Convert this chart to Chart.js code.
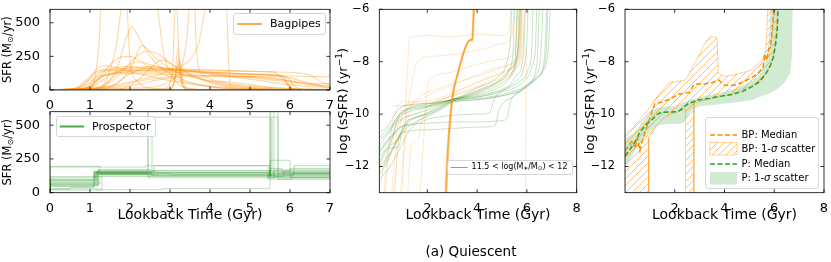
<!DOCTYPE html>
<html>
<head>
<meta charset="utf-8">
<script src="https://cdn.jsdelivr.net/npm/chart.js@4.4.1/dist/chart.umd.min.js"></script>
<style>
  body { margin: 0; background: #fff; width: 831px; height: 262px; position: relative; overflow: hidden; font-family: "DejaVu Sans"; }
  canvas { position: absolute; }
  #caption { position: absolute; left: 371px; top: 243px; width: 200px; text-align: center; font-size: 13.5px; line-height: 16px; color: #000; }
</style>
</head>
<body>
<canvas id="sfrBp" width="340" height="110" style="left:0;top:0"></canvas>
<canvas id="sfrP" width="340" height="130" style="left:0;top:100px"></canvas>
<canvas id="ssfrAll" width="252" height="230" style="left:330px;top:0"></canvas>
<canvas id="ssfrMed" width="251" height="230" style="left:580px;top:0"></canvas>
<div id="caption">(a) Quiescent</div>
<script>
// tick values
const timeTicksLeft = [0, 1, 2, 3, 4, 5, 6, 7];
const sfrTicks = [0, 250, 500];
const timeTicksRight = [2, 4, 6, 8];
const ssfrTicks = [-12, -10, -8, -6];

// top left: Bagpipes SFR histories [lookback Gyr, SFR]
const bagpipesSfr = [
  [[0,2],[0.6,8],[0.9,55],[1.1,125],[1.4,155],[2,162],[3,158],[4,150],[5,140],[5.6,133],[5.85,70],[6.05,12],[6.4,0],[7,0]],
  [[0,3],[0.7,14],[1.0,80],[1.3,138],[2,145],[3,140],[4,130],[5,120],[5.8,108],[6.0,25],[6.3,0],[7,0]],
  [[0,1],[0.8,10],[1.2,80],[1.6,128],[2.5,134],[3.5,126],[4.5,118],[5.5,108],[6.2,102],[7,98]],
  [[0,1],[1,18],[1.5,110],[2,168],[2.5,175],[3,160],[4,120],[5,80],[6,40],[7,14]],
  [[0,0],[1,5],[1.4,40],[1.7,180],[1.9,380],[2.05,470],[2.2,400],[2.5,250],[3,120],[3.5,60],[4,25],[5,5],[7,0]],
  [[0,0],[1.2,10],[1.6,80],[2,200],[2.4,290],[2.7,268],[3,200],[3.5,118],[4,60],[5,15],[6,2],[7,0]],
  [[0,0],[0.9,10],[1.3,120],[1.7,238],[2,250],[2.3,205],[2.8,120],[3.5,50],[4.5,10],[7,0]],
  [[0,0],[1,4],[1.12,90],[1.22,330],[1.3,700],[1.9,700],[2.0,220],[2.2,60],[2.6,10],[3,0],[7,0]],
  [[0,0],[1.1,5],[1.4,70],[1.65,320],[1.85,700],[2.6,720],[2.85,260],[3.15,60],[3.6,8],[4,0],[7,0]],
  [[0,0],[2.2,15],[3.2,110],[3.42,380],[3.52,720],[3.6,720],[3.66,300],[3.8,120],[4.5,60],[5.5,20],[7,0]],
  [[0,0],[1,10],[2,60],[3,150],[3.7,330],[3.95,650],[4.4,650],[4.48,120],[4.55,0],[7,0]],
  [[0,0],[2.8,5],[3.05,100],[3.15,700],[3.25,100],[3.45,0],[7,0]],
  [[0,0],[2.9,0],[3.1,50],[3.2,310],[3.3,40],[3.5,0],[7,0]],
  [[0,0],[3.0,5],[3.14,100],[3.22,230],[3.3,60],[3.45,5],[7,0]],
  [[0,0],[3.05,10],[3.18,160],[3.26,200],[3.34,50],[3.5,5],[7,0]],
  [[0,0],[1.5,20],[2.5,80],[3.5,110],[4.5,105],[5.5,90],[6.5,40],[7,20]],
  [[0,0],[2,30],[3,90],[4,100],[5,92],[6,70],[6.5,42],[7,30]],
  [[0,2],[0.8,20],[1.2,100],[1.8,122],[3,116],[4,106],[5,100],[5.85,95],[5.95,30],[6.2,0],[7,0]],
  [[0,0],[1.2,20],[1.8,150],[2.2,210],[2.6,180],[3.2,130],[4,70],[5,30],[6,10],[7,5]],
  [[0,0],[0.6,10],[1,100],[1.3,180],[1.6,172],[2.2,122],[3,70],[4,30],[5,10],[7,0]],
  [[0,0],[1.8,10],[2.3,100],[2.8,222],[3.1,180],[3.6,100],[4.2,40],[5,10],[7,0]],
  [[0,0],[0.9,15],[1.3,140],[1.6,150],[2.5,150],[3.5,148],[4.5,142],[5.5,135],[6.4,120],[6.8,60],[7,40]],
  [[0,0],[1.4,10],[2.0,120],[2.5,170],[3.2,150],[4.2,120],[5.2,85],[6,60],[7,45]],
  [[0,0],[1.0,20],[1.4,130],[1.8,175],[2.5,160],[3.5,140],[4.5,125],[5.5,110],[6.0,90],[6.6,40],[7,20]],
  [[0,0],[0.9,10],[1.3,100],[2.0,140],[3,150],[4,135],[5,118],[5.9,100],[6.1,30],[6.5,0],[7,0]],
  [[0,0],[1.5,30],[2,150],[2.3,330],[2.6,250],[3,160],[3.5,100],[4.5,40],[5.5,10],[7,0]],
  [[0,1],[7,1]],
  [[0,0],[7,0]]
];

// bottom left: Prospector step SFR histories [bin start Gyr, SFR]
const prospectorSfr = [
  [[0,8],[1.12,100],[2.45,155],[5.5,160],[6.0,140],[7,140]],
  [[0,5],[1.15,70],[2.5,145],[5.55,130],[6.05,150],[7,150]],
  [[0,3],[1.2,50],[2.6,140],[5.45,200],[5.9,130],[7,130]],
  [[0,12],[1.1,120],[2.45,160],[5.6,650],[5.75,120],[7,120]],
  [[0,2],[0.5,25],[1.1,40],[2.55,150],[5.5,560],[6.05,130],[7,130]],
  [[0,6],[1.25,195],[2.45,140],[5.6,110],[6.5,170],[7,170]],
  [[0,4],[1.2,30],[2.8,22],[5.5,30],[5.7,650],[6.03,100],[7,100]],
  [[0,7],[1.15,90],[2.7,135],[5.5,140],[6.0,240],[6.5,110],[7,110]],
  [[0,10],[1.2,60],[2.5,170],[5.5,150],[6.1,130],[6.6,200],[7,200]],
  [[0,3],[1.3,20],[2.45,130],[5.5,125],[5.8,180],[6.2,150],[7,150]],
  [[0,5],[1.12,110],[3.0,140],[5.5,135],[6.0,115],[7,115]],
  [[0,8],[1.18,75],[2.6,150],[5.45,145],[6.05,100],[6.5,140],[7,140]],
  [[0,2],[1.1,45],[2.5,120],[5.5,120],[6.0,160],[6.8,180],[7,180]],
  [[0,15],[1.05,190],[2.4,190],[5.5,200],[5.7,160],[7,160]],
  [[0,4],[1.2,55],[2.45,165],[5.52,640],[5.95,140],[7,140]],
  [[0,6],[1.15,85],[2.65,155],[5.5,150],[5.85,120],[6.3,160],[7,160]],
  [[0,3],[1.25,65],[2.55,140],[5.45,130],[6.05,110],[7,110]],
  [[0,9],[1.1,95],[2.5,150],[5.55,165],[5.7,560],[5.76,140],[7,140]]
];

// middle: sSFR histories [lookback Gyr, log sSFR]
const prospectorSsfr = [
  [[0.07,-11.2],[0.3,-10.9],[0.6,-10.5],[0.9,-10.1],[1.3,-9.9],[2,-9.75],[2.5,-9.6],[3,-9.45],[4,-9.25],[5,-8.9],[5.4,-8.5],[5.6,-7.9],[5.7,-7],[5.75,-5.8]],
  [[0.07,-11.8],[0.3,-11.4],[0.6,-10.9],[0.7,-10.5],[1,-10.2],[1.5,-10.0],[2,-9.85],[2.5,-9.65],[3,-9.45],[4,-9.3],[5,-9.05],[5.6,-8.7],[5.9,-8.1],[6.0,-7.2],[6.05,-5.8]],
  [[0.07,-12.3],[0.4,-11.8],[0.7,-11.2],[1,-10.6],[1.4,-10.2],[2,-9.95],[2.5,-9.7],[3,-9.5],[4,-9.35],[5,-9.15],[5.8,-8.8],[6.2,-8.2],[6.35,-7.3],[6.4,-5.8]],
  [[0.07,-11.5],[0.4,-11.0],[0.65,-10.7],[0.8,-10.2],[1.1,-9.9],[1.8,-9.75],[2.5,-9.55],[3,-9.45],[4,-9.2],[5,-8.8],[5.4,-8.4],[5.55,-7.6],[5.6,-5.8]],
  [[0.07,-12.0],[0.5,-11.5],[0.9,-10.8],[1.2,-10.3],[1.8,-10.05],[2.5,-9.75],[3,-9.5],[4,-9.4],[5,-9.25],[6,-8.9],[6.6,-8.4],[6.85,-7.6],[6.95,-5.8]],
  [[0.07,-11.4],[0.5,-11],[0.8,-10.6],[1.2,-10.4],[2,-10.35],[3,-10.3],[4,-10.3],[5,-10.25],[5.2,-10.15],[5.35,-9.5],[5.8,-9.1],[6.3,-8.6],[6.55,-7.8],[6.65,-5.8]],
  [[0.07,-10.9],[0.3,-10.7],[0.6,-10.4],[0.9,-10.0],[1.2,-9.8],[2,-9.7],[3,-9.45],[4,-9.15],[4.8,-8.8],[5.3,-8.3],[5.45,-7.5],[5.5,-5.8]],
  [[0.07,-12.1],[0.4,-11.7],[0.6,-11.3],[0.75,-11.0],[1.1,-10.6],[1.5,-10.3],[2,-10.1],[2.6,-9.8],[3,-9.55],[4,-9.45],[5,-9.3],[5.9,-9.0],[6.4,-8.6],[6.75,-7.9],[6.85,-5.8]],
  [[0.07,-11.6],[0.5,-11.2],[0.8,-11.0],[1.0,-10.7],[2,-10.6],[3,-10.55],[4,-10.5],[4.7,-10.45],[4.9,-9.8],[5.5,-9.3],[6.1,-8.8],[6.4,-8.1],[6.5,-5.8]],
  [[0.07,-11.0],[0.5,-10.6],[0.8,-10.1],[1.2,-9.8],[1.8,-9.65],[2.5,-9.55],[3,-9.45],[4,-9.1],[4.9,-8.7],[5.4,-8.2],[5.65,-7.4],[5.7,-5.8]],
  [[0.07,-11.9],[0.5,-11.3],[0.85,-11.25],[1.0,-10.5],[1.5,-10.15],[2.2,-9.95],[3,-9.5],[4,-9.35],[5,-9.1],[5.7,-8.75],[6.05,-8.3],[6.2,-7.4],[6.25,-5.8]],
  [[0.07,-12.5],[0.5,-12.0],[0.9,-11.3],[1.3,-10.6],[1.9,-10.1],[2.5,-9.8],[3,-9.55],[4,-9.45],[5,-9.3],[5.9,-9.05],[6.4,-8.6],[6.7,-7.9],[6.8,-5.8]],
  [[0.07,-11.3],[0.6,-10.8],[0.9,-10.5],[1.5,-10.4],[2,-10.2],[2.5,-10.1],[3,-10.05],[4,-10.0],[4.5,-9.95],[4.7,-9.4],[5.2,-9.0],[5.6,-8.5],[5.85,-7.8],[5.95,-5.8]],
  [[0.07,-10.7],[0.4,-10.5],[0.7,-10.0],[1.0,-9.7],[2,-9.6],[3,-9.45],[4,-9.0],[4.8,-8.6],[5.2,-8.0],[5.35,-7.0],[5.4,-5.8]]
];
const bagpipesSsfr = [
  [[0.55,-13.2],[0.7,-11.5],[0.85,-10.2],[1.0,-9.7],[2,-9.5],[3,-9.2],[4,-8.8],[5,-8.4],[5.5,-8.1],[5.7,-7.5],[5.8,-5.8]],
  [[0.9,-13.2],[1.1,-11],[1.3,-9.8],[1.6,-9.4],[2.5,-9.0],[3.5,-8.7],[4.5,-8.4],[5.3,-8.1],[5.6,-7.8],[5.75,-5.8]],
  [[0.6,-13.2],[0.75,-12],[0.9,-10.5],[1.1,-9.7],[1.3,-9.65],[2,-9.7],[3,-9.5],[4,-9.1],[5,-8.7],[5.6,-8.2],[5.8,-7.2],[5.85,-5.8]],
  [[1.0,-13.2],[1.1,-10.5],[1.2,-8.3],[1.3,-7.1],[2,-7.0],[3,-7.05],[4,-6.95],[5,-7.0],[5.25,-6.9],[5.32,-6.4],[5.36,-5.8]],
  [[1.7,-13.2],[1.85,-11],[2.0,-9.0],[2.2,-8.6],[3,-8.4],[4,-8.1],[5,-7.9],[5.5,-7.6],[5.65,-5.8]],
  [[0.3,-13.2],[0.5,-11],[0.8,-9.7],[1.2,-9.5],[1.8,-9.6],[2.5,-9.5],[3.5,-9.0],[4.5,-8.6],[5.3,-8.3],[5.6,-7.8],[5.7,-5.8]],
  [[0.25,-13.2],[0.4,-11.5],[0.6,-10.5],[0.9,-10.2],[1.5,-10.0],[2.2,-9.6],[3,-9.3],[4,-9.0],[5,-8.6],[5.6,-8.2],[5.85,-7.3],[5.9,-5.8]],
  [[1.2,-13.2],[1.35,-11.2],[1.6,-11.0],[1.8,-10.2],[2.1,-9.7],[3,-9.3],[4,-8.95],[5,-8.5],[5.5,-8.2],[5.75,-7.5],[5.8,-5.8]],
  [[0.08,-12.8],[0.3,-11.8],[0.6,-11.0],[0.9,-10.3],[1.2,-9.8],[2,-9.3],[3,-8.9],[4,-8.5],[5,-8.2],[5.5,-7.9],[5.65,-5.8]],
  [[5.94,-13.2],[5.96,-10],[5.98,-7.5]],
  [[0.7,-13.2],[0.8,-11.2],[1.0,-10.8],[1.3,-9.2],[1.6,-8.0],[2.2,-7.8],[3.2,-7.7],[4.3,-7.5],[5,-7.3],[5.4,-7.0],[5.5,-5.8]],
  [[0.6,-9.7],[1.0,-9.68],[1.6,-9.65],[1.8,-9.6],[2.6,-9.5],[3.2,-9.45],[4.2,-9.1],[5.2,-8.55],[5.6,-8.0],[5.75,-7.0],[5.78,-5.8]]
];
const bagpipesSsfrMain = [
  [[2.72,-13.2],[2.8,-11.5],[2.9,-10.2],[3.0,-9.3],[3.2,-8.5],[3.4,-7.8],[3.55,-7.4],[3.7,-7.2],[3.8,-7.1],[3.83,-6.5],[3.86,-5.8]],
  [[2.76,-13.2],[2.84,-11.4],[2.94,-10.1],[3.05,-9.2],[3.25,-8.4],[3.45,-7.7],[3.6,-7.3],[3.72,-7.15],[3.82,-7.2],[3.86,-6.4],[3.9,-5.8]]
];

// right: medians and 1-sigma regions
const bpMedian = [[0,-11.4],[0.15,-11.2],[0.3,-11.0],[0.4,-11.3],[0.5,-10.9],[0.6,-11.4],[0.7,-11.0],[0.8,-10.7],[0.95,-10.3],[1.08,-9.9],[1.2,-9.6],[1.45,-9.55],[1.75,-9.45],[1.95,-9.35],[2.15,-9.24],[2.4,-9.2],[2.6,-9.17],[2.72,-8.95],[2.85,-8.85],[3.2,-8.85],[3.5,-8.8],[3.77,-8.7],[4.0,-8.9],[4.4,-8.9],[4.8,-8.75],[5.1,-8.6],[5.35,-8.45],[5.55,-8.2],[5.62,-7.7],[5.7,-7.95],[5.78,-7.5],[5.85,-7.45],[5.9,-7.0],[5.95,-6.5],[6.0,-5.9]];
const bpScatter = [[0,-10.75],[0.3,-10.55],[0.6,-10.2],[0.9,-9.85],[1.2,-9.45],[1.5,-9.1],[1.76,-8.8],[2.1,-8.75],[2.43,-8.7],[2.7,-8.25],[2.95,-7.8],[3.15,-7.4],[3.31,-7.17],[3.45,-7.05],[3.6,-7.05],[3.7,-7.1],[3.75,-8.45],[4.0,-8.55],[4.4,-8.5],[4.8,-8.4],[5.1,-8.3],[5.35,-8.1],[5.55,-7.9],[5.65,-7.6],[5.7,-7.0],[5.73,-6],
  [6.13,-6],[6.1,-6.8],[6.0,-7.6],[5.9,-8.0],[5.7,-8.4],[5.4,-8.75],[5.0,-8.95],[4.5,-9.15],[4.0,-9.3],[3.5,-9.4],[3.1,-9.5],[2.77,-9.6],[2.77,-13],[2.43,-13],[2.43,-9.8],[2.0,-9.95],[1.6,-10.1],[1.3,-10.4],[0.95,-10.9],[0.95,-13],[0,-13],[0,-10.75]];
const pMedian = [[0,-11.6],[0.2,-11.35],[0.41,-11.05],[0.61,-10.67],[0.85,-10.4],[1.08,-10.22],[1.3,-10.0],[1.48,-9.93],[1.8,-9.92],[2.15,-9.9],[2.35,-9.75],[2.56,-9.59],[2.96,-9.46],[3.4,-9.4],[3.77,-9.33],[4.3,-9.25],[4.71,-9.14],[5.11,-8.95],[5.35,-8.8],[5.52,-8.63],[5.7,-8.4],[5.85,-8.13],[5.97,-7.8],[6.05,-7.36],[6.12,-6.8],[6.16,-5.9]];
const pScatter = [[0,-10.95],[0.3,-10.75],[0.6,-10.45],[0.9,-10.05],[1.2,-9.8],[1.5,-9.72],[2.0,-9.7],[2.5,-9.5],[3.0,-9.35],[3.5,-9.25],[4.0,-9.15],[4.5,-9.0],[5.0,-8.8],[5.3,-8.6],[5.5,-8.35],[5.65,-8.0],[5.75,-7.5],[5.82,-6.8],[5.85,-6],
  [6.74,-6],[6.71,-7.76],[6.65,-8.4],[6.45,-8.75],[6.18,-9.0],[5.8,-9.2],[5.11,-9.46],[4.5,-9.55],[4.0,-9.6],[3.5,-9.65],[3.0,-9.7],[2.75,-9.8],[2.55,-10.0],[2.4,-10.3],[2.2,-10.38],[1.6,-10.38],[1.3,-10.45],[1.0,-10.65],[0.7,-11.0],[0.4,-11.4],[0.15,-11.8],[0,-11.95]];

Chart.defaults.font.family = '"DejaVu Sans"';
Chart.defaults.color = '#000';

const ORANGE = 'rgba(255,140,0,0.35)';
const GREEN = 'rgba(0,128,0,0.22)';
const fmt = v => String(v).replace('-', '\u2212');
const SFR_TITLE = [['SFR (M', 0], ['\u2299', 1], ['/yr)', 0]];
const SSFR_TITLE = [['log (sSFR) (yr', 0], ['\u22121', 2], [')', 0]];

function hatch(color) {
  const c = document.createElement('canvas');
  c.width = c.height = 7;
  const g = c.getContext('2d');
  g.strokeStyle = color;
  g.lineWidth = 1;
  g.beginPath();
  g.moveTo(-1, 8); g.lineTo(8, -1);
  g.moveTo(-1, 1); g.lineTo(1, -1);
  g.moveTo(6, 8); g.lineTo(8, 6);
  g.stroke();
  return g.createPattern(c, 'repeat');
}
const HATCH = hatch('rgba(255,140,0,0.55)');

function curve(points, color, width) {
  return { data: points, borderColor: color, borderWidth: width || 1, pointRadius: 0, fill: false, cubicInterpolationMode: 'monotone', clip: 0 };
}

function makeScales(o) {
  return {
    x: {
      type: 'linear', min: o.xmin, max: o.xmax,
      afterBuildTicks: s => { s.ticks = o.xticks.map(v => ({ value: v })); },
      afterFit: s => { s.height = o.xh; },
      grid: { display: false }, border: { display: false },
      ticks: { padding: 1, autoSkip: false, maxRotation: 0, font: { size: 13, lineHeight: 1 }, callback: fmt },
      title: { display: !!o.xtitle, text: o.xtitle || '', font: { size: 14, lineHeight: 1.2 }, padding: { top: 0, bottom: 6.6 } }
    },
    y: {
      type: 'linear', min: o.ymin, max: o.ymax,
      afterBuildTicks: s => { s.ticks = o.yticks.map(v => ({ value: v })); },
      afterFit: s => { s.width = o.yw; },
      grid: { display: false }, border: { display: false },
      ticks: { padding: 2, autoSkip: false, font: { size: o.ytick || 13, lineHeight: 1 }, callback: fmt },
      title: { display: false }
    }
  };
}

// frame and inward ticks on all four sides
const frameTicks = {
  id: 'frameTicks',
  afterDatasetsDraw(chart) {
    const { ctx, chartArea: a, scales: { x, y } } = chart;
    ctx.save();
    ctx.strokeStyle = '#000';
    ctx.lineWidth = 0.8;
    ctx.strokeRect(a.left, a.top, a.right - a.left, a.bottom - a.top);
    ctx.beginPath();
    for (const t of x.ticks) {
      const px = x.getPixelForValue(t.value);
      ctx.moveTo(px, a.bottom); ctx.lineTo(px, a.bottom - 3.5);
      ctx.moveTo(px, a.top); ctx.lineTo(px, a.top + 3.5);
    }
    for (const t of y.ticks) {
      const py = y.getPixelForValue(t.value);
      ctx.moveTo(a.left, py); ctx.lineTo(a.left + 3.5, py);
      ctx.moveTo(a.right, py); ctx.lineTo(a.right - 3.5, py);
    }
    ctx.stroke();
    ctx.restore();
  }
};

// text made of pieces: [text, 0 normal | 1 subscript | 2 superscript]
function richWidth(ctx, parts, size) {
  let w = 0;
  for (const [t, m] of parts) {
    ctx.font = (m ? size * 0.7 : size) + 'px "DejaVu Sans"';
    w += ctx.measureText(t).width;
  }
  return w;
}
function richText(ctx, parts, x, y, size) {
  ctx.fillStyle = '#000';
  ctx.textBaseline = 'middle';
  ctx.textAlign = 'left';
  for (const [t, m] of parts) {
    ctx.font = (m ? size * 0.7 : size) + 'px "DejaVu Sans"';
    const dy = m === 1 ? size * 0.25 : m === 2 ? -size * 0.33 : 0;
    ctx.fillText(t, x, y + dy);
    x += ctx.measureText(t).width;
  }
}

// rotated y title centred at canvas x, middle of chart area
function yTitle(parts, cx, size) {
  return {
    id: 'yTitle',
    afterDraw(chart) {
      const { ctx, chartArea: a } = chart;
      ctx.save();
      ctx.translate(cx, (a.top + a.bottom) / 2);
      ctx.rotate(-Math.PI / 2);
      const w = richWidth(ctx, parts, size);
      richText(ctx, parts, -w / 2, 0, size);
      ctx.restore();
    }
  };
}

function legendBox(ctx, x, y, w, h) {
  ctx.beginPath();
  ctx.roundRect(x, y, w, h, 2.5);
  ctx.fillStyle = 'rgba(255,255,255,0.8)';
  ctx.fill();
  ctx.strokeStyle = '#cccccc';
  ctx.lineWidth = 0.8;
  ctx.stroke();
}

function legendLine(ctx, x1, x2, y, color, width, dash) {
  ctx.beginPath();
  ctx.setLineDash(dash || []);
  ctx.strokeStyle = color;
  ctx.lineWidth = width;
  ctx.moveTo(x1, y); ctx.lineTo(x2, y);
  ctx.stroke();
  ctx.setLineDash([]);
}

function legendText(ctx, text, x, y, size) {
  ctx.font = size + 'px "DejaVu Sans"';
  ctx.fillStyle = '#000';
  ctx.textBaseline = 'middle';
  ctx.textAlign = 'left';
  ctx.fillText(text, x, y);
}

function sigmaText(ctx, prefix, x, y) {
  legendText(ctx, prefix, x, y, 10);
  x += ctx.measureText(prefix).width;
  ctx.font = 'italic 10px "DejaVu Sans"';
  ctx.fillText('\u03C3', x, y);
  x += ctx.measureText('\u03C3').width;
  legendText(ctx, ' scatter', x, y, 10);
}

const baseOptions = (scales, padding) => ({
  responsive: false, animation: false, devicePixelRatio: 1, events: [],
  layout: { padding },
  plugins: { legend: { display: false }, tooltip: { enabled: false } },
  scales
});

// top left
new Chart(document.getElementById('sfrBp'), {
  type: 'line',
  data: { datasets: bagpipesSfr.map(p => curve(p, ORANGE, 1.1)) },
  options: baseOptions(makeScales({
    xmin: 0, xmax: 7, xticks: timeTicksLeft, xh: 20,
    ymin: 0, ymax: 600, yticks: sfrTicks, yw: 50
  }), { top: 9.3, right: 10, left: 0, bottom: 0 }),
  plugins: [frameTicks, yTitle(SFR_TITLE, 8.5, 11.5), {
    id: 'bpLegend',
    afterDraw(c) {
      const ctx = c.ctx;
      ctx.save();
      legendBox(ctx, 233.5, 13.5, 92, 21);
      legendLine(ctx, 237, 262, 24, 'rgba(255,140,0,0.7)', 2);
      legendText(ctx, 'Bagpipes', 270, 24.5, 11);
      ctx.restore();
    }
  }]
});

// bottom left
new Chart(document.getElementById('sfrP'), {
  type: 'line',
  data: { datasets: prospectorSfr.map(p => Object.assign(curve(p, 'rgba(0,128,0,0.25)', 1), { stepped: 'after', cubicInterpolationMode: 'default' })) },
  options: baseOptions(makeScales({
    xmin: 0, xmax: 7, xticks: timeTicksLeft, xh: 37.3, xtitle: 'Lookback Time (Gyr)',
    ymin: 0, ymax: 600, yticks: sfrTicks, yw: 50
  }), { top: 11.7, right: 10, left: 0, bottom: 0 }),
  plugins: [frameTicks, yTitle(SFR_TITLE, 8.5, 11.5), {
    id: 'pLegend',
    afterDraw(c) {
      const ctx = c.ctx;
      ctx.save();
      legendBox(ctx, 56.5, 16.5, 99, 20);
      legendLine(ctx, 60, 84, 26.5, 'rgba(0,128,0,0.7)', 2);
      legendText(ctx, 'Prospector', 92, 27, 11);
      ctx.restore();
    }
  }]
});

// middle
new Chart(document.getElementById('ssfrAll'), {
  type: 'line',
  data: {
    datasets: [
      ...bagpipesSsfrMain.map(p => curve(p, 'rgba(255,140,0,0.6)', 1.6)),
      ...prospectorSsfr.map(p => curve(p, GREEN, 1)),
      ...bagpipesSsfr.map(p => curve(p, 'rgba(255,140,0,0.2)', 1))
    ]
  },
  options: baseOptions(makeScales({
    xmin: 0.07, xmax: 8, xticks: timeTicksRight, xh: 37.3, xtitle: 'Lookback Time (Gyr)',
    ymin: -13, ymax: -6, yticks: ssfrTicks, yw: 49.3, ytick: 11.5
  }), { top: 9.3, right: 5.3, left: 0, bottom: 0 }),
  plugins: [frameTicks, yTitle(SSFR_TITLE, 13.5, 13), {
    id: 'massLegend',
    afterDraw(c) {
      const ctx = c.ctx;
      ctx.save();
      const parts = [['11.5 < log(M', 0], ['\u2217', 1], ['/M', 0], ['\u2299', 1], [') < 12', 0]];
      const w = richWidth(ctx, parts, 8);
      const right = 242.5;
      const left = right - (w + 29);
      legendBox(ctx, left, 160.5, right - left, 14);
      legendLine(ctx, left + 3, left + 20, 167.5, '#999999', 1);
      richText(ctx, parts, left + 24, 167, 8);
      ctx.restore();
    }
  }]
});

// right
new Chart(document.getElementById('ssfrMed'), {
  type: 'line',
  data: {
    datasets: [
      { data: bpMedian, borderColor: 'darkorange', borderWidth: 1.5, borderDash: [5, 2.5], pointRadius: 0, fill: false, clip: 0, order: 1 },
      { data: bpScatter, borderColor: 'rgba(255,140,0,0.4)', backgroundColor: HATCH, borderWidth: 1, pointRadius: 0, fill: 'shape', clip: 0, order: 3 },
      { data: pMedian, borderColor: '#2ca02c', borderWidth: 1.5, borderDash: [5, 2.5], pointRadius: 0, fill: false, clip: 0, order: 2 },
      { data: pScatter, borderColor: 'rgba(0,0,0,0)', backgroundColor: 'rgba(44,160,44,0.22)', borderWidth: 0, pointRadius: 0, fill: 'shape', clip: 0, order: 4 }
    ]
  },
  options: baseOptions(makeScales({
    xmin: 0, xmax: 8, xticks: timeTicksRight, xh: 37.3, xtitle: 'Lookback Time (Gyr)',
    ymin: -13, ymax: -6, yticks: ssfrTicks, yw: 45, ytick: 11.5
  }), { top: 9.3, right: 7, left: 0, bottom: 0 }),
  plugins: [frameTicks, yTitle(SSFR_TITLE, 10.5, 13), {
    id: 'medLegend',
    afterDraw(c) {
      const ctx = c.ctx;
      ctx.save();
      legendBox(ctx, 125.5, 117.5, 113, 71);
      legendLine(ctx, 130, 157, 135, 'darkorange', 1.5, [5, 2.5]);
      legendText(ctx, 'BP: Median', 161.5, 135.5, 10);
      ctx.fillStyle = HATCH;
      ctx.fillRect(130, 142.5, 27, 12.5);
      ctx.strokeStyle = 'rgba(255,140,0,0.4)';
      ctx.lineWidth = 1;
      ctx.strokeRect(130, 142.5, 27, 12.5);
      sigmaText(ctx, 'BP: 1-', 161.5, 149.5);
      legendLine(ctx, 130, 157, 164, '#2ca02c', 1.5, [5, 2.5]);
      legendText(ctx, 'P: Median', 161.5, 164.5, 10);
      ctx.fillStyle = 'rgba(44,160,44,0.22)';
      ctx.fillRect(130, 172, 27, 12.5);
      sigmaText(ctx, 'P: 1-', 161.5, 178.5);
      ctx.restore();
    }
  }]
});
</script>
</body>
</html>
